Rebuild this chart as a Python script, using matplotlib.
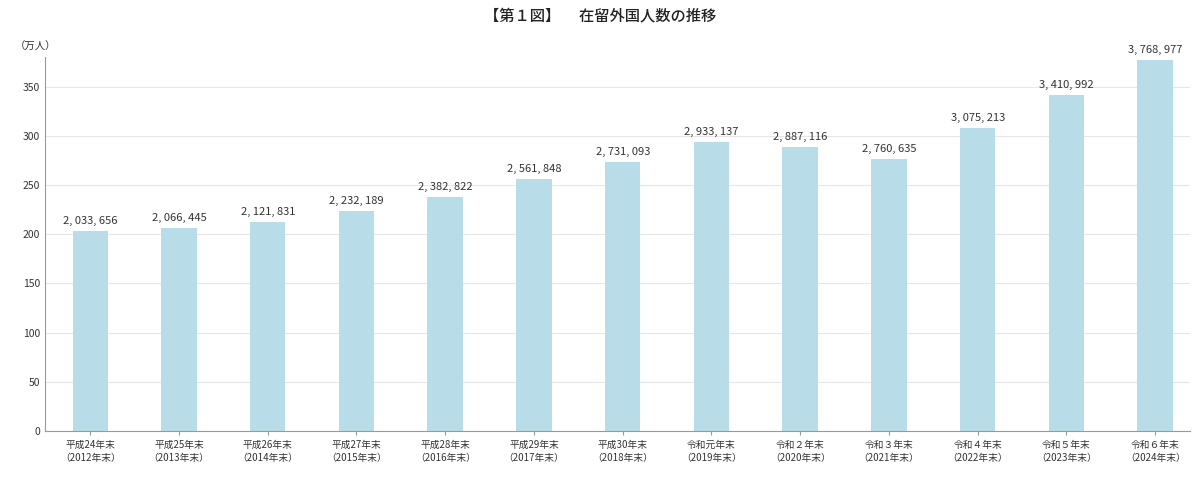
import matplotlib

matplotlib.use("Agg")
import matplotlib.pyplot as plt

plt.rcParams["font.family"] = "Noto Sans CJK JP"

categories = [
    "平成24年末\n（2012年末）", "平成25年末\n（2013年末）", "平成26年末\n（2014年末）",
    "平成27年末\n（2015年末）", "平成28年末\n（2016年末）", "平成29年末\n（2017年末）",
    "平成30年末\n（2018年末）", "令和元年末\n（2019年末）", "令和２年末\n（2020年末）",
    "令和３年末\n（2021年末）", "令和４年末\n（2022年末）", "令和５年末\n（2023年末）",
    "令和６年末\n（2024年末）",
]
residents = [
    2033656, 2066445, 2121831, 2232189, 2382822, 2561848, 2731093,
    2933137, 2887116, 2760635, 3075213, 3410992, 3768977,
]
yticks = [0, 50, 100, 150, 200, 250, 300, 350]

fig = plt.figure(figsize=(12, 4.79), dpi=100)
ax = fig.add_axes([0.0375, 0.1, 0.954, 0.781])

x = range(len(categories))
values_man = [v / 10000 for v in residents]
ax.bar(x, values_man, width=0.4, color="#b8dde8", zorder=2)
for i, v in enumerate(residents):
    ax.text(i, v / 10000 + 5, f"{v:,}".replace(",", ", "), ha="center", va="bottom",
            fontsize=8, color="#333333")

ax.set_xlim(-0.51, len(categories) - 0.61)
ax.set_ylim(0, 380)
ax.set_yticks(yticks)
ax.set_xticks(list(x))
ax.set_xticklabels(categories, fontsize=7, color="#333333", linespacing=1.3)
ax.tick_params(axis="y", labelsize=7.5, colors="#333333", length=0)
ax.tick_params(axis="x", length=3, color="#999999")
ax.grid(axis="y", color="#e6e6e6", linewidth=0.8, zorder=0)
for side in ["top", "right"]:
    ax.spines[side].set_visible(False)
ax.spines["left"].set_color("#999999")
ax.spines["bottom"].set_color("#999999")

fig.text(0.012, 0.895, "（万人）", fontsize=7.5, color="#333333")
fig.text(0.5, 0.955, "【第１図】　 在留外国人数の推移", ha="center", fontsize=11,
         color="#222222", fontweight="medium")

fig.savefig("out.png", dpi=100)
